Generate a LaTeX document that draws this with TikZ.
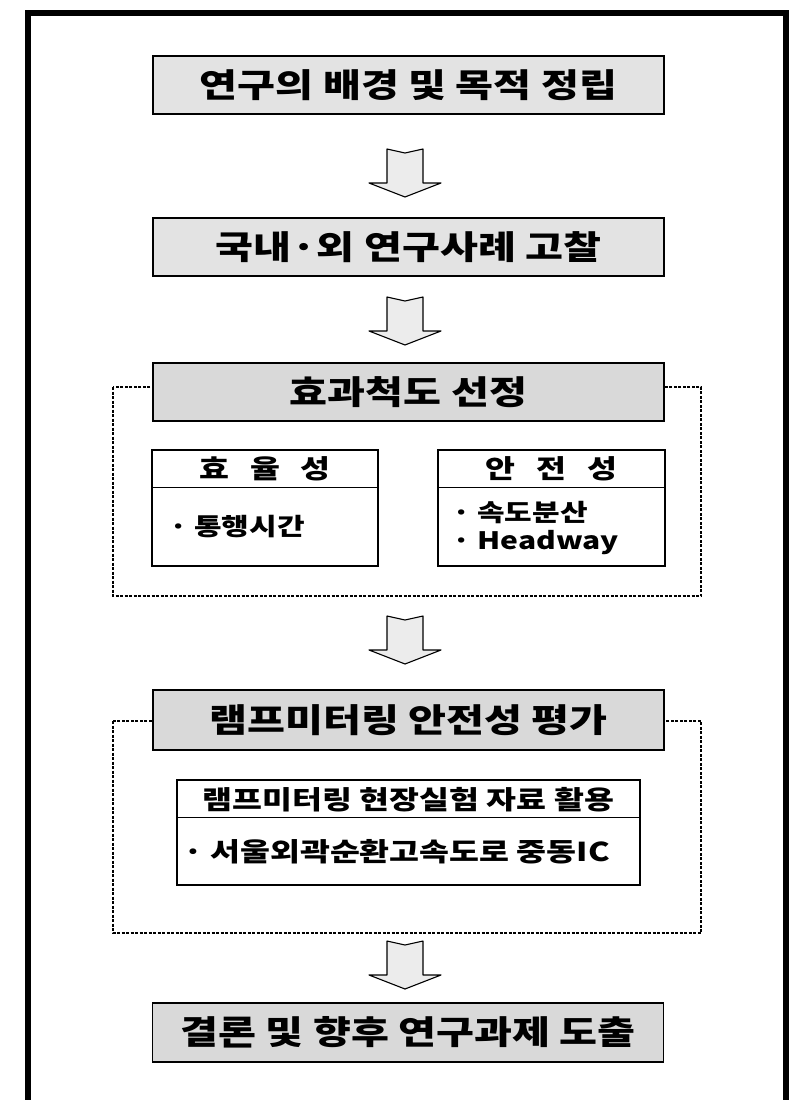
\documentclass[tikz,border=0pt]{standalone}
\usepackage{fontspec}
\setmainfont{Noto Sans CJK KR}[FakeStretch=1.25]
\newfontfamily\widespfont{Noto Sans CJK KR}[FakeStretch=1.25, WordSpace=2.8]
\usetikzlibrary{calc}
\begin{document}
\begin{tikzpicture}[x=1pt,y=-1pt,
  mainbox/.style={draw=black, line width=1.3pt, fill=gray!22, minimum width=511pt, minimum height=58pt, inner sep=0pt, font=\fontsize{33}{36}\selectfont\bfseries},
  grp/.style={draw=black, line width=1.2pt, dash pattern=on 3pt off 1.5pt},
  subbox/.style={draw=black, line width=1.1pt, inner sep=0pt},
  subhead/.style={inner sep=0pt, font=\widespfont\fontsize{26}{30}\selectfont\bfseries},
  inhead/.style={inner sep=0pt, font=\fontsize{26}{30}\selectfont\bfseries},
  itemtext/.style={anchor=west, inner sep=0pt, font=\fontsize{24}{28}\selectfont\bfseries},
  barrow/.style={draw=black, line width=1.1pt, fill=gray!15, line join=round},
  blockarr/.pic={\draw[barrow] (-18,-24) -- (0,-20) -- (18,-24) -- (18,10) -- (36,10) -- (0,24) -- (-36,10) -- (-18,10) -- cycle;}
]
\useasboundingbox (0,0) rectangle (791,1100);
% outer frame (open at the bottom)
\draw[line width=5.5pt] (28,1100) -- (28,13) -- (786,13) -- (786,1100);

% step 1 and 2
\node[mainbox] (b1) at (408.5,85) {연구의 배경 및 목적 정립};
\node[mainbox] (b2) at (408.5,247) {국내·외 연구사례 고찰};

% group 3
\draw[grp] (113,387) rectangle (701,596);
\node[mainbox, fill=gray!30] (b3) at (408.5,392) {효과척도 선정};
\node[subbox, minimum width=226pt, minimum height=116pt] (eff) at (265,508) {};
\draw[subbox] ($(eff.north west)+(0,38)$) -- ($(eff.north east)+(0,38)$);
\node[subhead] (effh) at ($(eff.north)+(0,19)$) {효 율 성};
\node[itemtext] (eff1) at (169,527) {· 통행시간};
\node[subbox, minimum width=227pt, minimum height=116pt] (saf) at (551.5,508) {};
\draw[subbox] ($(saf.north west)+(0,38)$) -- ($(saf.north east)+(0,38)$);
\node[subhead] (safh) at ($(saf.north)+(0,19)$) {안 전 성};
\node[itemtext] (saf1) at (452,513) {· 속도분산};
\node[itemtext] (saf2) at (452,543) {· Headway};

% group 4
\draw[grp] (113,721) rectangle (701,933);
\node[mainbox, fill=gray!30, minimum height=60pt] (b4) at (408.5,720) {램프미터링 안전성 평가};
\node[subbox, minimum width=463pt, minimum height=105pt] (ramp) at (408.5,832.5) {};
\draw[subbox] ($(ramp.north west)+(0,38)$) -- ($(ramp.north east)+(0,38)$);
\node[inhead] (ramph) at ($(ramp.north)+(0,20)$) {램프미터링 현장실험 자료 활용};
\node[itemtext, font=\fontsize{26}{30}\selectfont\bfseries] (ramp1) at (183,852) {· 서울외곽순환고속도로 중동IC};

% step 5
\node[mainbox, fill=gray!30, minimum height=59pt] (b5) at (408,1032.5) {결론 및 향후 연구과제 도출};

% block arrows
\pic at (405,173) {blockarr};
\pic at (405,321) {blockarr};
\pic at (405,640) {blockarr};
\pic at (405,965) {blockarr};
\end{tikzpicture}
\end{document}
